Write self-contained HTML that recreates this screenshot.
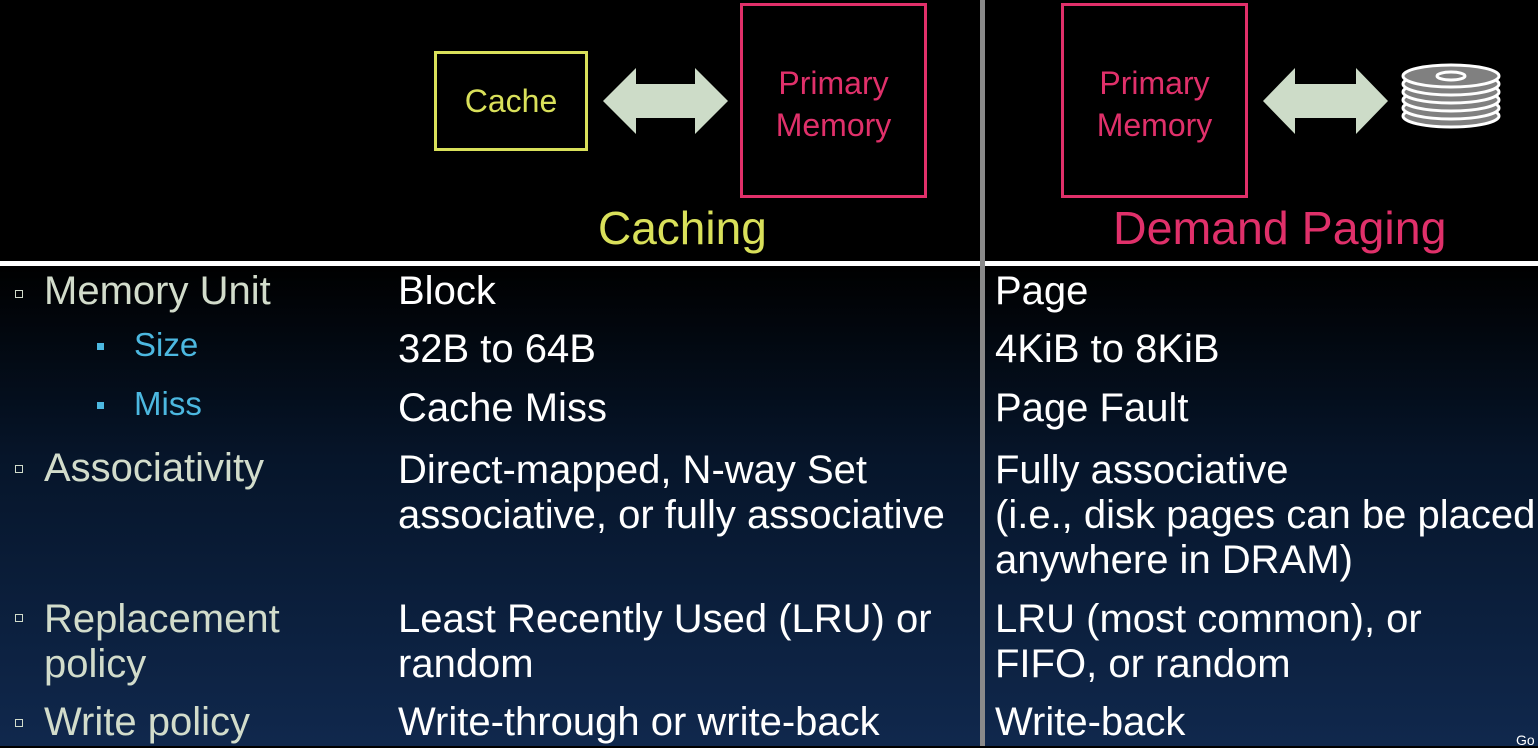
<!DOCTYPE html>
<html><head><style>
body{margin:0;width:1538px;height:746px;overflow:hidden;background:#000;font-family:"Liberation Sans",sans-serif;position:relative}
.bg{position:absolute;left:0;top:266px;width:1538px;height:480px;background:linear-gradient(#000 0%,#06152a 40%,#10284d 100%)}
.t{position:absolute;white-space:nowrap;font-size:40px;line-height:40px;color:#fff}
.g{color:#d2dccb}.b{color:#4cb8e0}
.box{position:absolute;box-sizing:border-box}
.bul{position:absolute;width:6px;height:6px;border:1.5px solid #d2dccb}
.bb{position:absolute;width:7px;height:7px;background:#4cb8e0}
</style></head><body>
<div class="bg"></div>
<div style="position:absolute;left:0;top:261px;width:1538px;height:5px;background:#fff"></div>
<div style="position:absolute;left:980px;top:0;width:5px;height:746px;background:#8a8a8a"></div>
<div class="box" style="left:434px;top:51px;width:154px;height:100px;border:3px solid #d9e05a;color:#d9e05a;font-size:32px;text-align:center;line-height:94px">Cache</div>
<div class="box" style="left:740px;top:3px;width:187px;height:195px;border:3px solid #e0306a;color:#e0306a;font-size:32px;text-align:center;padding-top:56px;line-height:42px">Primary<br>Memory</div>
<div class="box" style="left:1061px;top:3px;width:187px;height:195px;border:3px solid #e0306a;color:#e0306a;font-size:32px;text-align:center;padding-top:56px;line-height:42px">Primary<br>Memory</div>
<svg style="position:absolute;left:0;top:0" width="1538" height="260">
<polygon points="603,101 636,68 636,84 695,84 695,68 728,101 695,134 695,118 636,118 636,134" fill="#cddcc8"/>
<polygon points="1263,101 1295,68 1295,84 1356,84 1356,68 1388,101 1356,134 1356,118 1295,118 1295,134" fill="#cddcc8"/>
<g stroke="#fff" stroke-width="3" fill="#808080">
<ellipse cx="1451" cy="116" rx="48" ry="11"/>
<ellipse cx="1451" cy="108" rx="48" ry="11"/>
<ellipse cx="1451" cy="100" rx="48" ry="11"/>
<ellipse cx="1451" cy="92" rx="48" ry="11"/>
<ellipse cx="1451" cy="84" rx="48" ry="11"/>
<ellipse cx="1451" cy="76" rx="48" ry="11"/>
<ellipse cx="1451" cy="76" rx="14" ry="4" fill="#808080"/>
</g>
</svg>
<div class="t" style="left:598px;top:204px;font-size:46px;line-height:48px;color:#d9e05a">Caching</div>
<div class="t" style="left:1113px;top:204px;font-size:46.5px;line-height:48px;color:#e0306a">Demand Paging</div>

<div class="bul" style="left:15px;top:290px"></div>
<div class="t g" style="left:44px;top:271px">Memory Unit</div>
<div class="bb" style="left:97px;top:343px"></div>
<div class="t b" style="left:134px;top:328px;font-size:33px;line-height:34px">Size</div>
<div class="bb" style="left:97px;top:402px"></div>
<div class="t b" style="left:134px;top:387px;font-size:33px;line-height:34px">Miss</div>
<div class="bul" style="left:15px;top:465px"></div>
<div class="t g" style="left:44px;top:448px">Associativity</div>
<div class="bul" style="left:15px;top:614px"></div>
<div class="t g" style="left:44px;top:597px;line-height:45px">Replacement<br>policy</div>
<div class="bul" style="left:15px;top:719px"></div>
<div class="t g" style="left:44px;top:702px">Write policy</div>

<div class="t" style="left:398px;top:271px">Block</div>
<div class="t" style="left:398px;top:329px">32B to 64B</div>
<div class="t" style="left:398px;top:388px">Cache Miss</div>
<div class="t" style="left:398px;top:448px;line-height:45px">Direct-mapped, N-way Set<br>associative, or fully associative</div>
<div class="t" style="left:398px;top:597px;line-height:45px">Least Recently Used (LRU) or<br>random</div>
<div class="t" style="left:398px;top:702px">Write-through or write-back</div>

<div class="t" style="left:995px;top:271px">Page</div>
<div class="t" style="left:995px;top:329px">4KiB to 8KiB</div>
<div class="t" style="left:995px;top:388px">Page Fault</div>
<div class="t" style="left:995px;top:448px;line-height:45px">Fully associative<br>(i.e., disk pages can be placed<br>anywhere in DRAM)</div>
<div class="t" style="left:995px;top:597px;line-height:45px">LRU (most common), or<br>FIFO, or random</div>
<div class="t" style="left:995px;top:702px">Write-back</div>
<div class="t" style="left:1516px;top:733px;font-size:14px;line-height:14px">Go</div>
</body></html>
